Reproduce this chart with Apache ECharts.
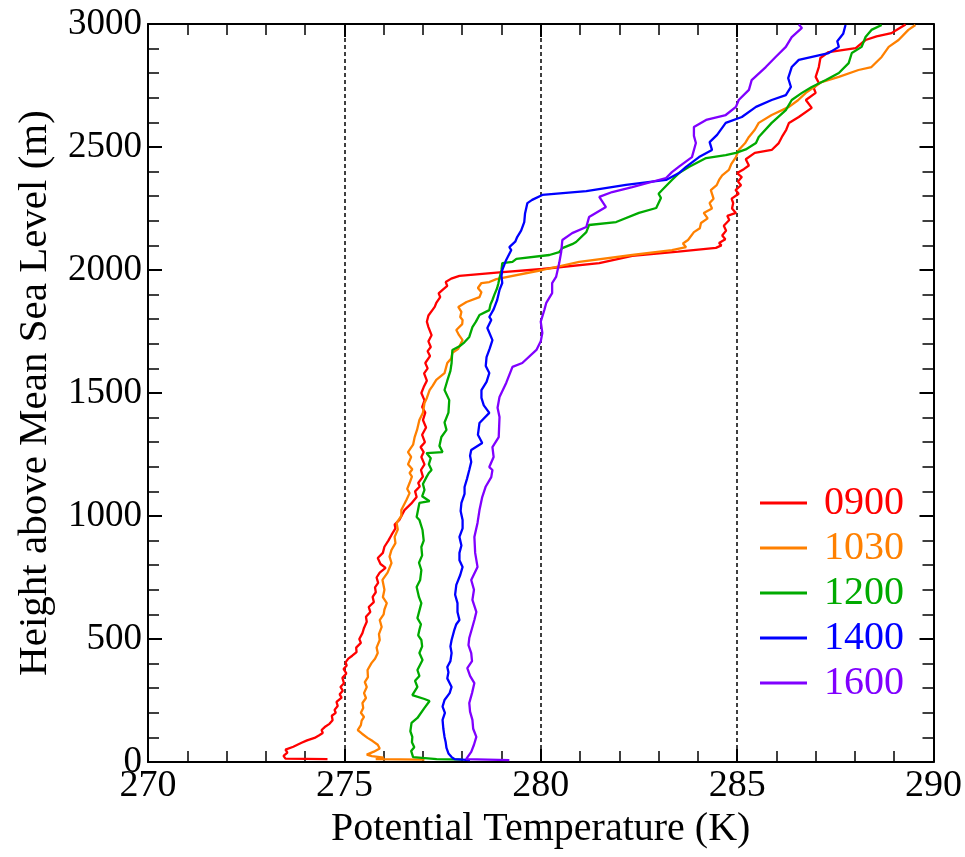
<!DOCTYPE html>
<html><head><meta charset="utf-8">
<script src="https://cdn.jsdelivr.net/npm/echarts@6/dist/echarts.min.js"></script>
<style>html,body{margin:0;padding:0;background:#fff}#c{width:965px;height:857px}</style>
</head><body><div id="c"></div>
<script>
// Potential temperature (K) vs height above mean sea level (m)
const seriesNames = ['0900', '1030', '1200', '1400', '1600'];
const xTickValues = [270, 275, 280, 285, 290];
const yTickValues = [0, 500, 1000, 1500, 2000, 2500, 3000];

const profile0900 = [[274.57,12],[273.50,14],[273.45,25],[273.55,38],[273.50,50],[273.70,62],[273.91,78],[274.05,88],[274.24,98],[274.35,108],[274.45,118],[274.42,130],[274.50,142],[274.62,155],[274.70,170],[274.68,188],[274.78,200],[274.75,212],[274.83,228],[274.80,244],[274.93,262],[274.88,275],[274.96,290],[274.90,305],[274.99,320],[274.95,342],[275.05,360],[274.98,378],[275.06,392],[275.03,405],[275.10,420],[275.20,432],[275.31,447],[275.30,465],[275.42,484],[275.38,500],[275.46,524],[275.50,545],[275.57,570],[275.55,590],[275.66,610],[275.62,630],[275.75,650],[275.72,671],[275.80,690],[275.78,710],[275.86,728],[275.82,750],[275.90,770],[276.05,789],[275.92,805],[275.85,829],[275.98,850],[276.02,875],[276.12,900],[276.20,923],[276.30,950],[276.28,965],[276.40,984],[276.53,1024],[276.70,1050],[276.84,1077],[276.80,1100],[276.92,1120],[276.88,1134],[277.00,1160],[276.95,1187],[277.04,1210],[276.96,1240],[277.02,1260],[276.94,1280],[277.05,1300],[276.98,1330],[277.08,1360],[277.00,1390],[277.06,1420],[276.98,1443],[277.04,1470],[276.96,1500],[277.02,1524],[277.10,1550],[277.03,1580],[277.12,1600],[277.06,1622],[277.18,1650],[277.12,1670],[277.20,1687],[277.14,1710],[277.22,1735],[277.14,1768],[277.10,1790],[277.14,1815],[277.24,1837],[277.30,1850],[277.34,1866],[277.44,1890],[277.40,1905],[277.50,1919],[277.62,1935],[277.58,1951],[277.72,1965],[277.93,1976],[278.95,1990],[280.04,2004],[281.49,2028],[282.33,2057],[283.50,2075],[284.46,2090],[284.60,2100],[284.54,2110],[284.70,2125],[284.62,2140],[284.72,2160],[284.66,2180],[284.80,2203],[284.75,2220],[284.97,2232],[284.87,2250],[284.90,2272],[284.86,2290],[285.04,2310],[284.96,2325],[285.10,2345],[285.02,2360],[285.12,2378],[285.00,2394],[285.17,2410],[285.30,2425],[285.22,2450],[285.45,2476],[285.88,2488],[286.06,2516],[286.14,2541],[286.25,2570],[286.32,2598],[286.57,2622],[286.90,2659],[286.75,2691],[287.00,2720],[286.95,2740],[287.08,2760],[287.00,2785],[287.08,2825],[287.12,2862],[287.33,2886],[288.02,2902],[288.27,2935],[288.55,2950],[288.93,2963],[289.10,2980],[289.29,2998]];

const profile1030 = [[277.04,10],[275.80,12],[276.00,18],[275.70,24],[275.57,30],[275.75,42],[275.90,55],[275.85,70],[275.72,85],[275.59,98],[275.45,115],[275.34,130],[275.42,150],[275.44,168],[275.50,183],[275.42,200],[275.48,220],[275.46,240],[275.55,260],[275.50,280],[275.57,305],[275.52,325],[275.60,345],[275.59,374],[275.69,402],[275.78,420],[275.85,443],[275.82,465],[275.90,496],[275.88,520],[275.95,549],[275.90,577],[276.00,600],[276.02,620],[276.08,646],[275.98,670],[276.02,700],[275.97,740],[276.10,770],[276.20,809],[276.15,835],[276.20,862],[276.30,890],[276.28,915],[276.36,945],[276.33,972],[276.45,1000],[276.45,1024],[276.58,1065],[276.66,1093],[276.60,1110],[276.66,1134],[276.72,1160],[276.66,1175],[276.73,1190],[276.62,1210],[276.70,1240],[276.62,1260],[276.75,1290],[276.79,1321],[276.85,1350],[276.91,1390],[277.00,1420],[277.04,1459],[277.10,1480],[277.17,1512],[277.25,1530],[277.34,1553],[277.55,1581],[277.62,1622],[277.72,1640],[277.75,1663],[277.90,1680],[277.93,1690],[278.01,1715],[277.92,1735],[277.85,1756],[278.00,1780],[278.01,1797],[277.95,1809],[277.98,1830],[277.90,1850],[278.11,1870],[278.44,1890],[278.49,1910],[278.40,1927],[278.49,1947],[278.69,1951],[278.87,1963],[280.04,2000],[280.98,2033],[282.33,2061],[283.34,2081],[283.70,2093],[283.62,2108],[283.75,2122],[283.90,2154],[284.05,2170],[284.08,2191],[284.25,2210],[284.15,2232],[284.36,2250],[284.30,2272],[284.40,2290],[284.33,2325],[284.48,2345],[284.54,2366],[284.62,2385],[284.79,2407],[284.85,2430],[284.97,2459],[285.04,2488],[285.20,2515],[285.30,2541],[285.45,2570],[285.55,2598],[285.88,2630],[286.32,2663],[286.55,2690],[286.75,2720],[287.15,2764],[287.59,2785],[288.09,2813],[288.42,2825],[288.68,2866],[288.86,2907],[289.11,2935],[289.36,2976],[289.54,2996]];

const profile1200 = [[278.01,10],[277.35,12],[276.75,20],[276.79,28],[276.70,45],[276.78,60],[276.72,80],[276.73,102],[276.68,125],[276.71,159],[276.86,179],[277.04,220],[277.17,248],[277.04,256],[276.73,272],[276.86,305],[276.80,330],[276.91,350],[276.86,374],[276.99,415],[276.91,443],[276.98,470],[276.96,496],[276.88,515],[276.91,537],[276.95,560],[276.86,585],[276.96,646],[276.90,670],[276.84,711],[276.93,740],[276.96,780],[276.90,810],[276.98,840],[276.96,874],[277.02,900],[276.99,943],[276.91,984],[276.84,996],[276.91,1053],[277.17,1060],[276.98,1080],[277.04,1106],[277.00,1130],[277.09,1158],[277.15,1175],[277.22,1187],[277.15,1210],[277.20,1235],[277.09,1256],[277.50,1260],[277.42,1285],[277.47,1321],[277.60,1350],[277.55,1380],[277.65,1420],[277.67,1471],[277.55,1512],[277.62,1550],[277.70,1590],[277.73,1622],[277.75,1675],[277.93,1690],[278.05,1705],[278.18,1728],[278.26,1768],[278.35,1790],[278.44,1817],[278.69,1837],[278.72,1860],[278.77,1878],[278.82,1900],[278.89,1927],[278.92,1945],[278.95,1967],[279.00,2000],[279.02,2028],[279.28,2033],[279.38,2045],[280.22,2061],[280.47,2073],[280.55,2089],[280.80,2105],[280.90,2114],[281.16,2154],[281.23,2183],[281.92,2195],[282.50,2232],[282.94,2252],[283.06,2293],[283.00,2310],[283.09,2325],[283.34,2366],[283.52,2394],[283.77,2419],[284.21,2455],[284.71,2467],[284.97,2476],[285.22,2490],[285.48,2516],[285.55,2541],[285.88,2598],[286.24,2650],[286.39,2691],[286.65,2720],[286.90,2744],[287.26,2772],[287.59,2801],[287.84,2841],[287.92,2882],[288.17,2907],[288.27,2947],[288.42,2976],[288.68,2996]];

const profile1400 = [[278.20,8],[277.80,12],[277.73,20],[277.65,35],[277.60,57],[277.58,80],[277.55,102],[277.52,135],[277.50,171],[277.56,200],[277.50,225],[277.55,252],[277.68,280],[277.73,305],[277.62,340],[277.65,365],[277.62,386],[277.70,410],[277.73,443],[277.70,470],[277.73,496],[277.80,537],[277.85,560],[277.93,577],[277.88,610],[277.88,646],[277.82,680],[277.85,720],[277.95,760],[278.01,793],[277.93,820],[277.93,850],[277.98,880],[277.93,915],[278.01,950],[278.01,984],[277.96,1020],[277.98,1053],[278.06,1090],[278.06,1118],[278.12,1150],[278.18,1187],[278.23,1220],[278.20,1245],[278.23,1268],[278.51,1297],[278.40,1330],[278.44,1378],[278.69,1419],[278.55,1450],[278.49,1480],[278.49,1512],[278.62,1545],[278.69,1581],[278.60,1610],[278.62,1646],[278.70,1680],[278.77,1715],[278.64,1764],[278.74,1797],[278.69,1809],[278.80,1840],[278.89,1878],[278.95,1919],[279.02,1947],[279.00,1975],[279.02,2000],[279.12,2041],[279.25,2081],[279.20,2093],[279.35,2115],[279.40,2134],[279.50,2160],[279.58,2195],[279.60,2230],[279.66,2272],[279.78,2285],[280.04,2305],[281.16,2321],[282.17,2346],[283.19,2366],[283.52,2394],[283.70,2419],[284.03,2459],[284.36,2488],[284.30,2520],[284.49,2549],[284.71,2598],[285.12,2622],[285.48,2663],[285.88,2691],[286.24,2711],[286.37,2744],[286.30,2780],[286.39,2825],[286.57,2854],[287.33,2882],[287.59,2907],[287.55,2930],[287.70,2960],[287.76,2996]];

const profile1600 = [[279.20,8],[278.10,12],[278.11,18],[278.23,41],[278.30,70],[278.36,102],[278.28,135],[278.26,171],[278.20,205],[278.18,240],[278.25,280],[278.31,321],[278.20,350],[278.13,382],[278.25,410],[278.23,443],[278.16,475],[278.18,504],[278.26,549],[278.31,577],[278.36,610],[278.26,659],[278.30,700],[278.23,740],[278.39,793],[278.33,850],[278.31,915],[278.39,972],[278.44,1024],[278.51,1077],[278.60,1120],[278.74,1158],[278.77,1187],[278.69,1199],[278.80,1240],[278.77,1280],[278.93,1321],[278.95,1402],[278.90,1440],[278.95,1484],[279.12,1541],[279.28,1606],[279.53,1622],[279.89,1675],[280.00,1710],[280.04,1744],[280.00,1790],[280.09,1837],[280.14,1866],[280.29,1906],[280.29,1947],[280.39,1972],[280.47,2028],[280.52,2073],[280.55,2122],[280.80,2150],[281.16,2175],[281.23,2215],[281.66,2256],[281.49,2297],[281.82,2317],[282.33,2337],[283.19,2374],[283.34,2398],[283.52,2420],[283.85,2459],[283.95,2516],[283.90,2545],[283.90,2581],[284.21,2610],[284.71,2630],[284.97,2663],[285.04,2691],[285.30,2732],[285.37,2772],[285.73,2825],[285.98,2866],[286.24,2907],[286.39,2947],[286.65,2984],[286.57,2998]];

const profiles = [profile0900, profile1030, profile1200, profile1400, profile1600];

const FONT = "'Liberation Serif','Times New Roman',serif";
const colors = ['#ff0000', '#ff8000', '#00aa00', '#0000ff', '#8000ff'];

const chart = echarts.init(document.getElementById('c'), null, {renderer: 'canvas'});

function xAx(pos, main) {
  return {
    type: 'value', position: pos, min: xTickValues[0], max: xTickValues[xTickValues.length-1], interval: 5,
    axisLine: {show: true, onZero: false, lineStyle: {color: '#000', width: 2}},
    axisTick: {show: true, inside: true, length: 13, lineStyle: {color: '#000', width: 2}},
    minorTick: {show: true, splitNumber: 5, length: 11, lineStyle: {color: '#000', width: 1.5}},
    axisLabel: {show: main, fontFamily: FONT, fontSize: 38, color: '#000', margin: 5, formatter: v => String(v)},
    splitLine: {show: main, lineStyle: {color: '#000', width: 1.5, type: [4, 3]}},
    name: main ? 'Potential Temperature (K)' : '', nameLocation: 'middle', nameGap: 44,
    nameTextStyle: {fontFamily: FONT, fontSize: 40, color: '#000'}
  };
}
function yAx(pos, main) {
  return {
    type: 'value', position: pos, min: yTickValues[0], max: yTickValues[yTickValues.length-1], interval: 500,
    axisLine: {show: true, onZero: false, lineStyle: {color: '#000', width: 2}},
    axisTick: {show: true, inside: true, length: 14, lineStyle: {color: '#000', width: 2}},
    minorTick: {show: true, splitNumber: 5, length: 11, lineStyle: {color: '#000', width: 1.5}},
    axisLabel: {show: main, fontFamily: FONT, fontSize: 37, color: '#000', margin: 6, formatter: v => String(v)},
    splitLine: {show: false},
    name: main ? 'Height above Mean Sea Level (m)' : '', nameLocation: 'middle', nameGap: 92,
    nameTextStyle: {fontFamily: FONT, fontSize: 41, color: '#000'}
  };
}

chart.setOption({
  animation: false,
  backgroundColor: '#fff',
  grid: {left: 148, right: 30, top: 24, bottom: 95, containLabel: false},
  xAxis: [xAx('bottom', true), xAx('top', false)],
  yAxis: [yAx('left', true), yAx('right', false)],
  legend: {
    orient: 'vertical', left: 755, top: 478, icon: 'rect', itemWidth: 47, itemHeight: 3, itemGap: 5,
    data: seriesNames.map((n, i) => ({name: n, textStyle: {color: colors[i]}})),
    textStyle: {fontFamily: FONT, fontSize: 40, lineHeight: 40, padding: [0, 0, 0, 12]}
  },
  series: seriesNames.map((n, i) => ({
    name: n, type: 'line', xAxisIndex: 0, yAxisIndex: 0,
    data: profiles[i], showSymbol: false, symbol: 'none', clip: true,
    color: colors[i], lineStyle: {color: colors[i], width: 2.3}
  }))
});
</script></body></html>
